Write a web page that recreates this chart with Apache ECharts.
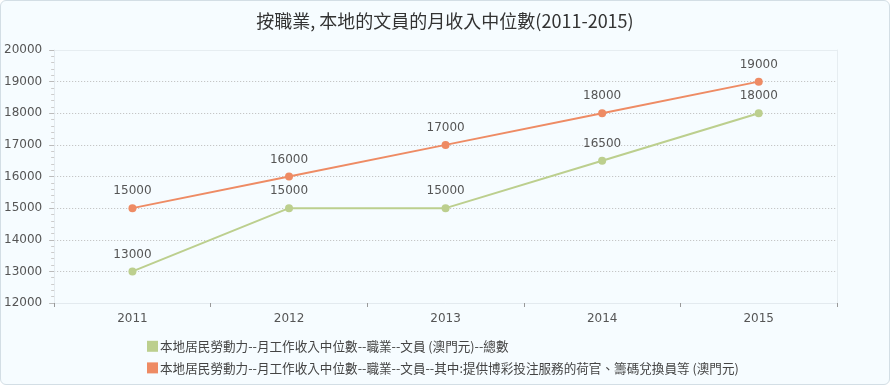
<!DOCTYPE html>
<html><head><meta charset="utf-8">
<script src="https://cdn.jsdelivr.net/npm/echarts@6/dist/echarts.min.js"></script>
<style>
html,body{margin:0;padding:0;background:#fff;}
#wrap{position:absolute;left:0;top:0;width:888px;height:383px;border:1px solid #d3dee5;border-radius:6px;background:#f6fcff;overflow:hidden;}
#c{width:888px;height:383px;}
</style></head>
<body><div id="wrap"><div id="c"></div></div>
<script>
const titleText = '按職業, 本地的文員的月收入中位數(2011-2015)';
const categories = ['2011','2012','2013','2014','2015'];
const seriesNames = [
  '本地居民勞動力--月工作收入中位數--職業--文員 (澳門元)--總數',
  '本地居民勞動力--月工作收入中位數--職業--文員--其中:提供博彩投注服務的荷官、籌碼兌換員等 (澳門元)'
];
const totalValues = [13000, 15000, 15000, 16500, 18000];
const dealerValues = [15000, 16000, 17000, 18000, 19000];
const yTicks = {min: 12000, max: 20000, interval: 1000};
const colors = ['#bccf8e', '#ee8b64'];

const chart = echarts.init(document.getElementById('c'));
const lbl = {show: true, position: 'top', color: '#555', fontSize: 12, fontFamily: 'DejaVu Sans', distance: 7};
chart.setOption({
  animation: false,
  backgroundColor: 'transparent',
  title: {text: titleText, left: 'center', top: 6, textStyle: {fontFamily: 'Noto Sans CJK TC', fontSize: 18, fontWeight: 'normal', color: '#333'}},
  legend: {
    orient: 'vertical', left: 146, top: 339, padding: 0, itemGap: 9, itemWidth: 11, itemHeight: 11,
    icon: 'rect', textStyle: {fontFamily: 'Noto Sans CJK TC', fontSize: 12.6, color: '#444', padding: [0,0,0,-3]},
    data: seriesNames
  },
  grid: {left: 53, right: 52, top: 49, bottom: 81, containLabel: false},
  xAxis: [{
    type: 'category', data: categories, boundaryGap: true,
    axisLine: {lineStyle: {color: '#e3eaef'}},
    axisTick: {show: true, alignWithLabel: false, length: 4, lineStyle: {color: '#999'}},
    axisLabel: {color: '#555', fontSize: 12, fontFamily: 'DejaVu Sans', margin: 10},
    splitLine: {show: false}
  },{
    type: 'category', data: categories, position: 'top',
    axisLine: {show: true, lineStyle: {color: '#e6edf1'}},
    axisTick: {show: false}, axisLabel: {show: false}
  }],
  yAxis: [{
    type: 'value', min: yTicks.min, max: yTicks.max, interval: yTicks.interval,
    axisLine: {show: true, lineStyle: {color: '#e3eaef'}},
    axisTick: {show: true, length: 5, lineStyle: {color: '#bbb'}},
    minorTick: {show: true, splitNumber: 5, length: 3, lineStyle: {color: '#ccc'}},
    axisLabel: {color: '#555', fontSize: 12, fontFamily: 'DejaVu Sans', margin: 12, formatter: v => String(v)},
    splitLine: {show: true, lineStyle: {color: '#bbb', type: [1, 2], width: 1}}
  },{
    type: 'value', min: yTicks.min, max: yTicks.max, interval: yTicks.interval, position: 'right',
    axisLine: {show: true, lineStyle: {color: '#e6edf1'}},
    axisTick: {show: false}, axisLabel: {show: false}, splitLine: {show: false}
  }],
  series: [{
    name: seriesNames[0], type: 'line', data: totalValues, color: colors[0],
    symbol: 'circle', symbolSize: 8, lineStyle: {width: 2}, label: lbl
  },{
    name: seriesNames[1], type: 'line', data: dealerValues, color: colors[1],
    symbol: 'circle', symbolSize: 8, lineStyle: {width: 2}, label: lbl
  }]
});
</script></body></html>
